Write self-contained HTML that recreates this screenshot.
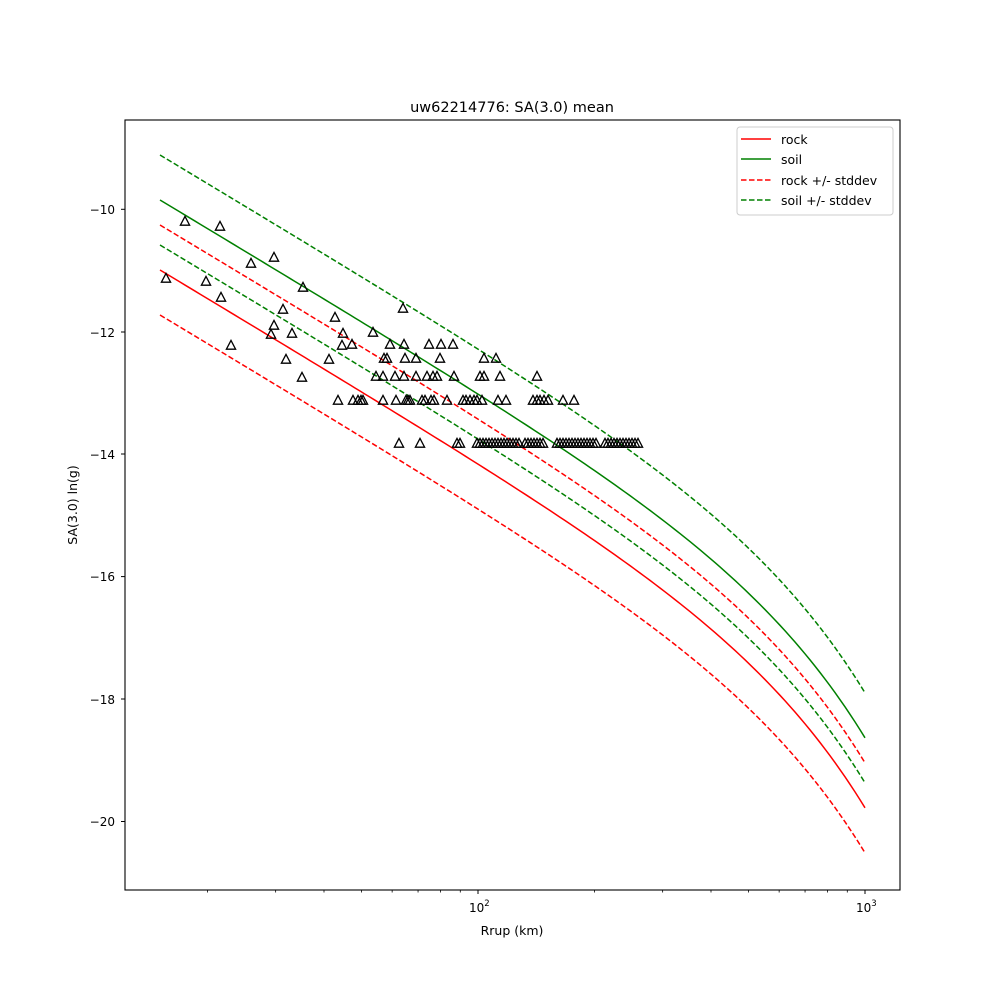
<!DOCTYPE html>
<html><head><meta charset="utf-8"><style>
html,body{margin:0;padding:0;background:#fff;}
svg{display:block;font-family:"DejaVu Sans","Liberation Sans",sans-serif;}
</style></head><body>
<svg id="s" width="1000" height="1000" viewBox="0 0 1000 1000" xmlns="http://www.w3.org/2000/svg">
<rect width="1000" height="1000" fill="#fff"/>
<text x="512" y="112" font-size="14.5" text-anchor="middle">uw62214776: SA(3.0) mean</text>
<g id="curves" fill="none"></g>
<g id="pts" fill="none" stroke="#000" stroke-width="1.3"></g>
<rect x="125" y="120" width="775" height="770" fill="none" stroke="#000" stroke-width="1.1"/>
<g id="ticks" stroke="#000"></g>
<g font-size="12" text-anchor="end">
<text x="115" y="214">−10</text>
<text x="115" y="337">−12</text>
<text x="115" y="459">−14</text>
<text x="115" y="581">−16</text>
<text x="115" y="704">−18</text>
<text x="115" y="826">−20</text>
</g>
<text x="469" y="912" font-size="12">10<tspan dy="-6" font-size="8.5">2</tspan></text>
<text x="856" y="912" font-size="12">10<tspan dy="-6" font-size="8.5">3</tspan></text>
<text x="512" y="935" font-size="12.5" text-anchor="middle">Rrup (km)</text>
<text transform="translate(77,505) rotate(-90)" font-size="12.5" text-anchor="middle">SA(3.0) ln(g)</text>
<rect x="737" y="127" width="156" height="88" rx="3" fill="#fff" fill-opacity="0.8" stroke="#ccc"/>
<line x1="741" y1="139" x2="771" y2="139" stroke="red" stroke-width="1.5"/>
<line x1="741" y1="159" x2="771" y2="159" stroke="green" stroke-width="1.5"/>
<line x1="741" y1="180" x2="771" y2="180" stroke="red" stroke-width="1.5" stroke-dasharray="5.5,2.5"/>
<line x1="741" y1="200" x2="771" y2="200" stroke="green" stroke-width="1.5" stroke-dasharray="5.5,2.5"/>
<g font-size="12.5"><text x="781" y="144">rock</text><text x="781" y="164">soil</text><text x="781" y="185">rock +/- stddev</text><text x="781" y="205">soil +/- stddev</text></g>
</svg>
<script>
var NS="http://www.w3.org/2000/svg";
function el(p,t,a){var e=document.createElementNS(NS,t);for(var k in a)e.setAttribute(k,a[k]);p.appendChild(e);return e;}
function f(x){return 270+0.6*(x-160)+115*Math.exp(0.009*(x-865))-115*Math.exp(0.009*(160-865));}
function path(off){var d="";for(var x=160;x<=865;x+=5){d+=(x==160?"M":" L")+x+","+(f(x)+off).toFixed(2);}return d;}
var g=document.getElementById("curves");
el(g,"path",{d:path(0),stroke:"red","stroke-width":1.5});
el(g,"path",{d:path(-70),stroke:"green","stroke-width":1.5});
[-45,45].forEach(function(o){el(g,"path",{d:path(o),stroke:"red","stroke-width":1.5,"stroke-dasharray":"5.5,2.5"});
el(g,"path",{d:path(-70+o),stroke:"green","stroke-width":1.5,"stroke-dasharray":"5.5,2.5"});});
var P=[[185,221],[220,226],[166,278],[206,281],[251,263],[274,257],[221,297],[303,287],[283,309],[335,317],[274,325],[271,334],[292,333],[343,333],[231,345],[342,345],[286,359],[329,359],[302,377],
[352,344],[338,400],[353,400],[358,400],[361,400],[363,400],[373,332],[376,376],[383,376],[384,358],[387,358],[383,400],[390,344],[395,376],[396,400],[399,443],[403,308],[404,344],[405,358],[404,376],[406,400],[408,400],[410,400],[416,376],[416,358],[420,443],[422,400],[425,400],[427,376],[429,344],[431,400],[433,376],[437,376],[434,400],[440,358],[441,344],[447,400],[453,344],[454,376],[457,443],[460,443],[463,400],[466,400],[470,400],
[474,400],[477,400],[482,400],[480,376],[484,376],[500,376],[537,376],[484,358],[496,358],[498,400],[506,400],[533,400],[537,400],[540,400],[544,400],[548,400],[563,400],[574,400]];
[[477,520,3],[525,545,3],[557,598,3],[605,640,3]].forEach(function(r){for(var x=r[0];x<=r[1];x+=r[2])P.push([x,443]);});
var pg=document.getElementById("pts");
P.forEach(function(q){var x=q[0],y=q[1];el(pg,"path",{d:"M"+(x-4.6)+","+(y+4.2)+" L"+x+","+(y-4.6)+" L"+(x+4.6)+","+(y+4.2)+" Z"});});
var t=document.getElementById("ticks");
[209.3,332,454,576.6,699,821.5].forEach(function(y){el(t,"line",{x1:121,x2:125,y1:y,y2:y});});
[478,865].forEach(function(x){el(t,"line",{x1:x,x2:x,y1:890,y2:894});});
[20,30,40,50,60,70,80,90,200,300,400,500,600,700,800,900].forEach(function(v){var x=478+387*Math.log10(v/100);el(t,"line",{x1:x,x2:x,y1:890,y2:892.5,"stroke-width":0.8});});
</script>
</body></html>
